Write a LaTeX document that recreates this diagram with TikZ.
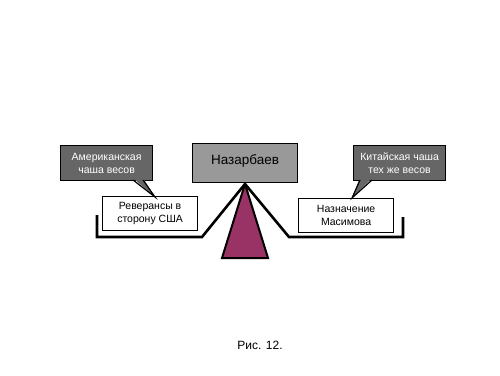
\documentclass[tikz,border=0pt]{standalone}
\usepackage{fontspec}
\setmainfont{Liberation Sans}
\begin{document}
\begin{tikzpicture}[x=1pt,y=-1pt,
  callout/.style={draw=black,line width=1.2pt,fill=calloutgray,text=white,font=\fontsize{10.5}{13}\selectfont,align=center,minimum width=92pt,minimum height=35pt,inner sep=1pt},
  whitebox/.style={draw=black,line width=1.2pt,fill=white,font=\fontsize{10.5}{13}\selectfont,align=center,minimum width=95pt,minimum height=34pt,inner sep=1pt},
  beam/.style={line width=2.6pt,line join=miter},
  tailfill/.style={fill=calloutgray},
  tailline/.style={draw=black,line width=1.2pt}]
\definecolor{calloutgray}{HTML}{666666}
\definecolor{namegray}{HTML}{999999}
\definecolor{fulcrum}{HTML}{993366}
\useasboundingbox (0,0) rectangle (500,375);
% fulcrum
\coordinate (apex) at (245,184);
\coordinate (bl) at (222,258);
\coordinate (br) at (268,258);
\filldraw[fill=fulcrum,draw=black,line width=2pt,line join=miter] (apex) -- (bl) -- (br) -- cycle;
% beams
\coordinate (lt) at (97,215);
\coordinate (lc) at (97,237);
\coordinate (lr) at (202,237);
\coordinate (rl) at (289,237);
\coordinate (rc) at (403,237);
\coordinate (rt) at (403,217);
\draw[beam] (lt) -- (lc) -- (lr) -- (apex) -- (rl) -- (rc) -- (rt);
% Nazarbaev box
\node[draw=black,line width=1.2pt,fill=namegray,minimum width=105pt,minimum height=39pt,font=\fontsize{13.5}{15}\selectfont,anchor=north west,inner sep=2pt] (naz) at (192,143) {\raisebox{8pt}{Назарбаев}};
% white boxes
\node[whitebox,anchor=north west] (rev) at (102,196) {Реверансы в\\сторону США};
\node[whitebox,anchor=north west] (nazn) at (298,198) {Назначение\\Масимова};
% callouts
\node[callout,anchor=north west] (am) at (60,145) {Американская\\чаша весов};
\coordinate (amtip) at (155,197);
\fill[tailfill] (133,178) -- (amtip) -- (143,178) -- cycle;
\draw[tailline] (133,180) -- (amtip) -- (143,180);
\node[callout,anchor=north west] (ch) at (353,145) {Китайская чаша\\тех же весов};
\coordinate (chtip) at (352,198);
\fill[tailfill] (360,178) -- (chtip) -- (372,178) -- cycle;
\draw[tailline] (360,180) -- (chtip) -- (372,180);
% caption
\node[font=\fontsize{12}{14}\selectfont] (cap) at (260,345) {Рис. 12.};
\end{tikzpicture}
\end{document}
